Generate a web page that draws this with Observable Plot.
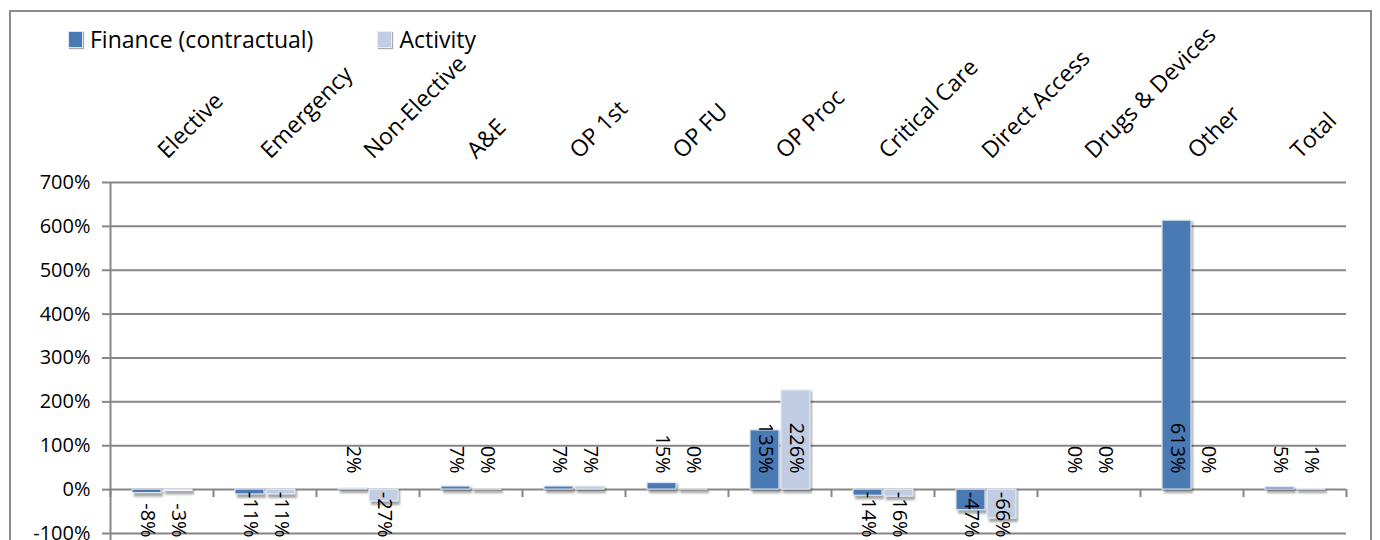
<!DOCTYPE html>
<html>
<head>
<meta charset="utf-8">
<script src="https://cdn.jsdelivr.net/npm/d3@7"></script>
<script src="https://cdn.jsdelivr.net/npm/@observablehq/plot@0.6"></script>
<style>
  html, body { margin: 0; padding: 0; background: #fff; overflow: hidden; }
  #wrap { position: relative; width: 1380px; height: 540px; overflow: hidden; font-family: "Open Sans", sans-serif; }
  #frame { position: absolute; left: 9px; top: 10px; width: 1363px; height: 600px; border: 2px solid #8a8a8a; box-sizing: border-box; pointer-events: none; }
  #legend { position: absolute; left: 68px; top: 23px; display: flex; align-items: center; font-size: 23px; color: #000; }
  #legend .item { display: flex; align-items: center; margin-right: 64px; }
  #legend .sw { width: 13px; height: 15px; margin-right: 7px; box-shadow: 1px 1px 1px #aaa; }
  .shadow { filter: blur(1.2px); }
</style>
</head>
<body>
<div id="wrap">
  <div id="chart"></div>
  <div id="frame"></div>
  <div id="legend"></div>
</div>
<script>
const categories = ["Elective", "Emergency", "Non-Elective", "A&E", "OP 1st", "OP FU", "OP Proc", "Critical Care", "Direct Access", "Drugs & Devices", "Other", "Total"];
const seriesNames = ["Finance (contractual)", "Activity"];
const finance = [-8, -11, 2, 7, 7, 15, 135, -14, -47, 0, 613, 5];
const activity = [-3, -11, -27, 0.3, 7, 0.3, 226, -16, -66, 0, 0, 1];
const yTicks = [-100, 0, 100, 200, 300, 400, 500, 600, 700];

const colors = {"Finance (contractual)": "#4a7ab4", "Activity": "#c0cde2"};
const strokes = {"Finance (contractual)": "#dce5f1", "Activity": "#e7edf6"};

const financeRows = categories.map((c, i) => ({category: c, series: seriesNames[0], value: finance[i]}));
const activityRows = categories.map((c, i) => ({category: c, series: seriesNames[1], value: activity[i]}));

const gray = "#868686";
const half = (1380 - 110 - 34) / categories.length / 2;

function barMarks(rows, name, insetLeft, insetRight) {
  return [
    Plot.barY(rows.filter(d => d.value !== 0), {
      x: "category", y: "value", fill: "#000", fillOpacity: 0.35,
      insetLeft, insetRight, insetTop: -1, insetBottom: -2, dx: 2, dy: 2, className: "shadow"
    }),
    Plot.barY(rows, {
      x: "category", y: "value", fill: colors[name], stroke: strokes[name], strokeWidth: 1.2,
      insetLeft, insetRight
    })
  ];
}

function labelMarks(rows, dx) {
  const fmt = d => Math.round(d.value) + "%";
  return [
    Plot.text(rows.filter(d => d.value >= 0), {
      x: "category", y: () => 0, text: fmt, rotate: 90, textAnchor: "end",
      dx, dy: -16, fontSize: 20, fill: "#000"
    }),
    Plot.text(rows.filter(d => d.value < 0), {
      x: "category", y: () => 0, text: fmt, rotate: 90, textAnchor: "end",
      dx, dy: 48, fontSize: 20, fill: "#000"
    })
  ];
}

const chart = Plot.plot({
  width: 1380,
  height: 540,
  marginLeft: 110,
  marginRight: 34,
  marginTop: 182,
  marginBottom: 0,
  x: {domain: categories, padding: 0, round: false, axis: null},
  y: {domain: [-116, 700], axis: null},
  style: {fontFamily: "'Open Sans', sans-serif", fontSize: "20px", color: "#000", background: "transparent", overflow: "visible"},
  marks: [
    Plot.gridY(yTicks, {stroke: gray, strokeOpacity: 1, strokeWidth: 2}),
    Plot.axisY(yTicks, {tickFormat: d => d + "%", tickSize: 8, tickPadding: 12, stroke: gray, strokeWidth: 2, fontSize: 20, fill: "#000", label: null}),
    Plot.ruleX(categories.slice(0, 1), {x: d => d, y1: -116, y2: 700, dx: -half, stroke: gray, strokeWidth: 2}),
    Plot.ruleX(categories, {x: d => d, y1: 0, y2: 0, dx: -half, insetBottom: -8, stroke: gray, strokeWidth: 2}),
    Plot.ruleX(categories.slice(-1), {x: d => d, y1: 0, y2: 0, dx: half, insetBottom: -8, stroke: gray, strokeWidth: 2}),
    Plot.axisX({anchor: "top", tickRotate: -45, textAnchor: "start", tickSize: 0, tickPadding: 28, fontSize: 23, fill: "#000", label: null}),
    ...barMarks(financeRows, seriesNames[0], 22, 52),
    ...barMarks(activityRows, seriesNames[1], 53, 21),
    ...labelMarks(financeRows, -15),
    ...labelMarks(activityRows, 16)
  ]
});
document.getElementById("chart").appendChild(chart);

const legend = document.getElementById("legend");
for (const name of seriesNames) {
  const item = document.createElement("div");
  item.className = "item";
  const sw = document.createElement("span");
  sw.className = "sw";
  sw.style.background = colors[name];
  sw.style.border = "1px solid " + strokes[name];
  const label = document.createElement("span");
  label.textContent = name;
  item.appendChild(sw);
  item.appendChild(label);
  legend.appendChild(item);
}
</script>
</body>
</html>
